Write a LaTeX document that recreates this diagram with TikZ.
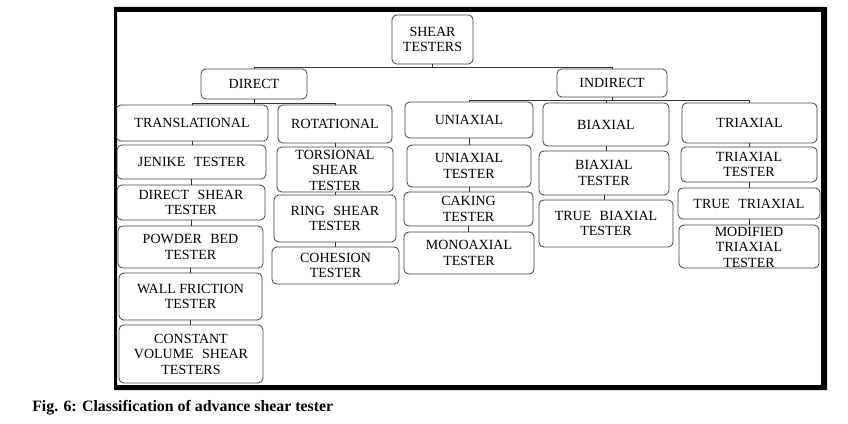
\documentclass[tikz,border=0pt]{standalone}
\usepackage{fontspec}
\setmainfont{Liberation Serif}
\begin{document}
\begin{tikzpicture}[x=0.75pt,y=-0.75pt,
  bx/.style={draw=black!75,line width=0.6pt,rounded corners=3.5pt,inner sep=0pt,
    font=\fontsize{10.5}{11.6}\selectfont,align=center,text=black},
  sz/.style 2 args={minimum width=#1*0.75pt,minimum height=#2*0.75pt},
  lbl/.style={inner sep=0pt,font=\fontsize{10.5}{11.6}\selectfont,align=center,text=black},
  ln/.style={draw=black!80,line width=0.6pt}]
\useasboundingbox (0,0) rectangle (848,424);
\newcommand{\ws}{\hspace{0.6em}}
% frame
\fill[black,even odd rule] (114,7) rectangle (827,390) (117,12) rectangle (821,385);
% level 0/1
\node[bx,sz={81}{49}] (shear) at (432.5,39.5) {SHEAR\\TESTERS};
\node[bx,sz={106}{30}] (direct) at (254,84) {DIRECT};
\node[bx,sz={110}{28}] (indirect) at (612,83) {INDIRECT};
% level 2
\node[bx,sz={152}{36}] (trans) at (192,123) {TRANSLATIONAL};
\node[bx,sz={114}{38}] (rot) at (335,124) {ROTATIONAL};
\node[bx,sz={128}{36}] (uni) at (469,120) {UNIAXIAL};
\node[bx,sz={126}{43}] (bi) at (606,124.5) {BIAXIAL};
\node[bx,sz={135}{40}] (tri) at (749.5,123) {TRIAXIAL};
% translational column
\node[bx,sz={149}{34}] (jenike) at (191.5,162) {JENIKE\ws TESTER};
\node[bx,sz={148}{35}] (dst) at (191,202.5) {DIRECT\ws SHEAR\\TESTER};
\node[bx,sz={145}{42}] (pbt) at (190.5,247) {POWDER\ws BED\\TESTER};
\node[bx,sz={143}{47}] (wft) at (190.5,296.5) {WALL FRICTION\\TESTER};
\node[bx,sz={144}{58}] (cvst) at (191,354) {CONSTANT\\VOLUME\ws SHEAR\\TESTERS};
% rotational column
\node[bx,sz={116}{45}] (tors) at (335,169.5) {};
\node[lbl] (torst) at (335,170) {TORSIONAL\\SHEAR\\TESTER};
\node[bx,sz={122}{47}] (ring) at (335,218.5) {RING\ws SHEAR\\TESTER};
\node[bx,sz={127}{37}] (coh) at (335.5,265.5) {COHESION\\TESTER};
% uniaxial column
\node[bx,sz={124}{42}] (unit) at (469,166) {UNIAXIAL\\TESTER};
\node[bx,sz={129}{34}] (cak) at (468.5,209) {CAKING\\TESTER};
\node[bx,sz={130}{42}] (mono) at (469,253) {MONOAXIAL\\TESTER};
% biaxial column
\node[bx,sz={130}{44}] (bit) at (604,173) {BIAXIAL\\TESTER};
\node[bx,sz={134}{47}] (tbt) at (606,223.5) {TRUE\ws BIAXIAL\\TESTER};
% triaxial column
\node[bx,sz={136}{35}] (trit) at (749,164.5) {TRIAXIAL\\TESTER};
\node[bx,sz={142}{31}] (ttri) at (749,203.5) {TRUE\ws TRIAXIAL};
\node[bx,sz={140}{43}] (mod) at (749,246.5) {};
\node[lbl] (modt) at (749,247) {MODIFIED\\TRIAXIAL\\TESTER};
% connectors
\draw[ln] (shear.south) -- ++(0,3) coordinate (j1);
\draw[ln] (j1) -| (direct.north);
\draw[ln] (j1) -| (indirect.north);
\draw[ln] (direct.south) -- ++(0,4) coordinate (j2);
\draw[ln] (j2) -| (trans.north);
\draw[ln] (j2) -| (rot.north);
\draw[ln] (indirect.south) -- ++(0,3) coordinate (j3);
\draw[ln] (j3) -| (uni.north);
\draw[ln] (j3) -| (bi.north);
\draw[ln] (j3) -| (tri.north);
\foreach \a/\b in {trans/jenike,jenike/dst,dst/pbt,pbt/wft,wft/cvst,
  rot/tors,tors/ring,ring/coh,uni/unit,unit/cak,cak/mono,bi/bit,bit/tbt,
  tri/trit,trit/ttri,ttri/mod}
  \draw[ln] (\a.south) -- (\a.south |- \b.north);
% caption
\node[anchor=base west,inner sep=0pt,font=\fontsize{11.9}{14}\selectfont\bfseries] (cap) at (32,411) {Fig. 6: Classification of advance shear tester};
\end{tikzpicture}
\end{document}
